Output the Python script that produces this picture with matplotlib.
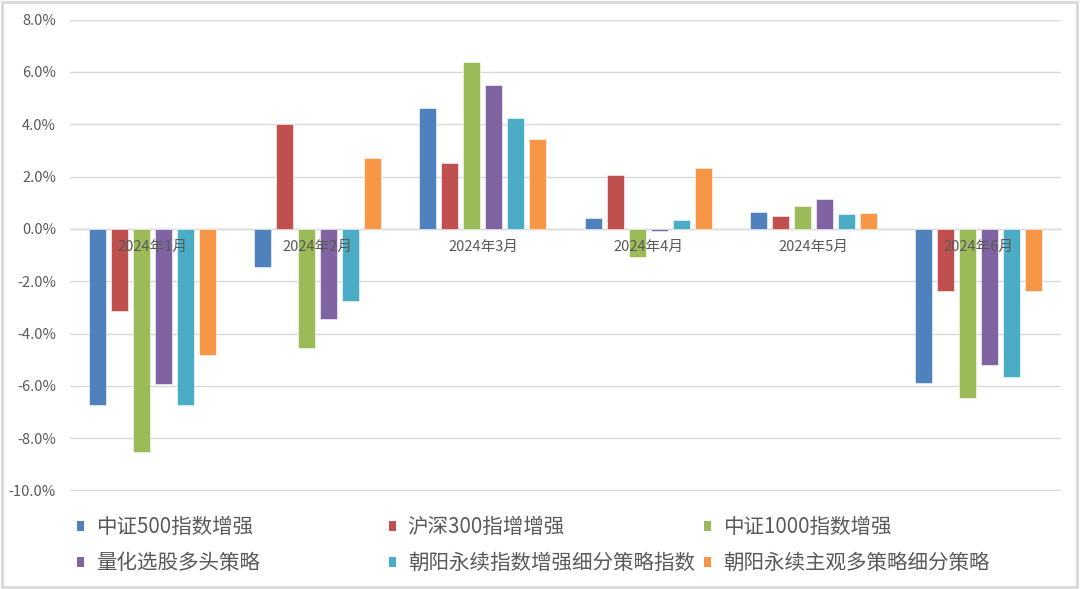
import matplotlib
matplotlib.use("Agg")
import matplotlib.pyplot as plt
import numpy as np
from matplotlib.ticker import FuncFormatter, FixedLocator
from matplotlib.patches import Rectangle, Patch

plt.rcParams['font.family'] = ['Noto Sans CJK SC', 'DejaVu Sans']

categories = ["2024年1月", "2024年2月", "2024年3月", "2024年4月", "2024年5月", "2024年6月"]
series_names = ["中证500指数增强", "沪深300指增增强", "中证1000指数增强",
                "量化选股多头策略", "朝阳永续指数增强细分策略指数", "朝阳永续主观多策略细分策略"]
zz500 = [-6.73, -1.45, 4.60, 0.40, 0.63, -5.91]
hs300 = [-3.15, 3.99, 2.53, 2.06, 0.49, -2.36]
zz1000 = [-8.53, -4.57, 6.37, -1.09, 0.87, -6.47]
quant_long = [-5.94, -3.44, 5.49, -0.07, 1.13, -5.21]
cy_index_enh = [-6.73, -2.74, 4.24, 0.32, 0.57, -5.66]
cy_subjective = [-4.83, 2.71, 3.45, 2.34, 0.62, -2.38]
series_values = [zz500, hs300, zz1000, quant_long, cy_index_enh, cy_subjective]
colors = ["#4F81BD", "#C0504D", "#9BBB59", "#8064A2", "#4BACC6", "#F79646"]
yticks = [-10, -8, -6, -4, -2, 0, 2, 4, 6, 8]

fig = plt.figure(figsize=(10.8, 5.89), dpi=100)
ax = fig.add_axes([70/1080, 1 - 490.5/589, 991/1080, 471/589])

n = len(series_names)
x = np.arange(len(categories))
pitch = 22/165
width = 17/165
for i, (vals, c) in enumerate(zip(series_values, colors)):
    offs = (i - (n - 1) / 2) * pitch
    ax.bar(x + offs, vals, width=width, color=c, edgecolor='white', linewidth=0.4, zorder=2)

ax.set_xlim(-0.5, len(categories) - 0.5)
ax.set_ylim(-10, 8)
ax.yaxis.set_major_locator(FixedLocator(yticks))
ax.yaxis.set_major_formatter(FuncFormatter(lambda v, p: f"{v:.1f}%"))
ax.grid(axis='y', color='#D9D9D9', linewidth=1.0, zorder=0)
ax.set_axisbelow(True)
ax.xaxis.set_zorder(5)

for s in ['top', 'right', 'left']:
    ax.spines[s].set_visible(False)
ax.spines['bottom'].set_position(('data', 0))
ax.spines['bottom'].set_color('#D9D9D9')
ax.spines['bottom'].set_linewidth(1.0)
ax.spines['bottom'].set_zorder(1)

ax.set_xticks(x)
ax.set_xticklabels(categories)
ax.tick_params(axis='x', length=0, pad=8, labelsize=10.5, labelcolor='#595959')
ax.tick_params(axis='y', length=0, pad=10, labelsize=10.5, labelcolor='#595959')

# legend: three columns, two rows
col_x = [77/1080, 389/1080, 704/1080]
for ci in range(3):
    idxs = [ci, ci + 3]
    handles = [Patch(facecolor=colors[k], edgecolor='none') for k in idxs]
    labels = [series_names[k] for k in idxs]
    fig.legend(handles, labels, loc='upper left', bbox_to_anchor=(col_x[ci], 1 - 516/589),
               frameon=False, fontsize=14.8, labelcolor='#595959',
               handlelength=0.36, handleheight=0.36, handletextpad=0.55,
               labelspacing=0.68, borderpad=0, borderaxespad=0)

fig.patches.append(Rectangle((0.0015, 0.004), 0.996, 0.993, transform=fig.transFigure,
                             fill=False, edgecolor='#D9D9D9', linewidth=2))

fig.savefig("out.png", dpi=100)
